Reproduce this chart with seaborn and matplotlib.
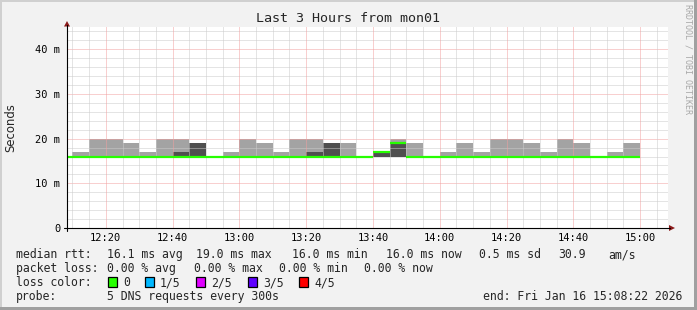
import numpy as np
import pandas as pd
import matplotlib
matplotlib.use("Agg")
import matplotlib.pyplot as plt
import seaborn as sns
from matplotlib.patches import Rectangle, Polygon
from matplotlib.lines import Line2D

# ---------------- data ----------------
interval_start = ["12:05", "12:10", "12:15", "12:20", "12:25", "12:30", "12:35",
                  "12:40", "12:45", "12:50", "12:55", "13:00", "13:05", "13:10",
                  "13:15", "13:20", "13:25", "13:30", "13:35", "13:40", "13:45",
                  "13:50", "13:55", "14:00", "14:05", "14:10", "14:15", "14:20",
                  "14:25", "14:30", "14:35", "14:40", "14:45", "14:50", "14:55"]
median_ms = [16, 16, 16, 16, 16, 16, 16, 16, 16, 16, 16, 16, 16, 16, 16, 16, 16, 16,
             16, 17, 19, 16, 16, 16, 16, 16, 16, 16, 16, 16, 16, 16, 16, 16, 16]
smoke_min_ms = [16] * 35
smoke_max_ms = [16, 17, 20, 20, 19, 17, 20, 20, 19, 16, 17, 20, 19, 17, 20, 20, 19, 19,
                16, 17, 20, 19, 16, 17, 19, 17, 20, 20, 19, 17, 20, 19, 16, 17, 19]
smoke_inner_ms = [16, 16, 16, 16, 16, 16, 16, 17, 19, 16, 16, 16, 16, 16, 16, 17, 19, 16,
                  16, 17, 19, 16, 16, 16, 16, 16, 16, 16, 16, 16, 16, 16, 16, 16, 16]
ytick_values = [0, 10, 20, 30, 40]
ytick_labels = ["0", "10 m", "20 m", "30 m", "40 m"]
xtick_labels = ["12:20", "12:40", "13:00", "13:20", "13:40", "14:00", "14:20", "14:40", "15:00"]
window_start = "12:08:22"
window_hours = 3

title = "Last 3 Hours from mon01"
ylabel = "Seconds"
watermark = "RRDTOOL / TOBI OETIKER"
rtt_line = ["median rtt:", "16.1 ms avg", "19.0 ms max", "16.0 ms min",
            "16.0 ms now", "0.5 ms sd", "30.9", "am/s"]
loss_line = ["packet loss:", "0.00 % avg", "0.00 % max", "0.00 % min", "0.00 % now"]
loss_color_labels = ["0", "1/5", "2/5", "3/5", "4/5"]
loss_colors = ["#26ff00", "#00b8ff", "#e000ff", "#5e00ff", "#ff0000"]
probe_line = ["probe:", "5 DNS requests every 300s"]
end_text = "end: Fri Jan 16 15:08:22 2026"


def to_min(s):
    parts = [int(p) for p in s.split(":")]
    return parts[0] * 60 + parts[1] + (parts[2] / 60 if len(parts) > 2 else 0)


t0 = np.array([to_min(s) for s in interval_start])
x_lo = to_min(window_start)
x_hi = x_lo + window_hours * 60

# ---------------- figure ----------------
W, H = 697, 310
sns.set_style("white")
plt.rcParams["font.family"] = ["DejaVu Sans Mono"]
BG = "#f2f2f2"
fig = plt.figure(figsize=(W / 100, H / 100), dpi=100, facecolor=BG)


def fx(x):
    return x / W


def fy(y):
    return 1 - y / H


L, R, T, B = 67, 668, 27, 228
ax = fig.add_axes([fx(L), fy(B), (R - L) / W, (B - T) / H])
ax.set_facecolor("white")
ax.set_xlim(x_lo, x_hi)
ax.set_ylim(0, 45)
for s in ax.spines.values():
    s.set_visible(False)

# smoke
lo = np.array(smoke_min_ms, dtype=float)
ax.bar(t0, np.array(smoke_max_ms) - lo, bottom=lo, width=5, align="edge",
       color="#a3a3a3", linewidth=0, zorder=1)
ax.bar(t0, np.array(smoke_inner_ms) - lo, bottom=lo, width=5, align="edge",
       color="#4f4f4f", linewidth=0, zorder=1.1)

# grid (dotted)
minor_c, major_c = "#cbcbcb", "#f2a0a0"
dots = (0, (1, 1))
for yv in range(2, 45, 2):
    ax.axhline(yv, color=major_c if yv % 10 == 0 else minor_c, lw=0.72, ls=dots, zorder=2)
x_major = [to_min(s) for s in xtick_labels]
for tv in np.arange(to_min("12:10"), x_hi, 5):
    ax.axvline(tv, color=major_c if tv in x_major else minor_c, lw=0.72, ls=dots, zorder=2)

# median line (segments, no vertical joins)
rows = []
for i, (t, m) in enumerate(zip(t0, median_ms)):
    rows.append({"t": t, "ms": m, "seg": i})
    rows.append({"t": t + 5, "ms": m, "seg": i})
df = pd.DataFrame(rows)
sns.lineplot(data=df, x="t", y="ms", units="seg", estimator=None, color=loss_colors[0],
             lw=1.6, legend=False, ax=ax, zorder=3, solid_capstyle="butt")
ax.set_xlabel("")
ax.set_ylabel("")

# ticks
ax.set_yticks(ytick_values, labels=ytick_labels)
ax.set_yticks(np.arange(2, 45, 2), minor=True)
ax.set_xticks(x_major, labels=xtick_labels)
ax.set_xticks(np.arange(to_min("12:10"), x_hi, 5), minor=True)
ax.tick_params(which="both", direction="out", length=2.3, width=0.72, colors="#333333",
               labelcolor="black", labelsize=7.5)
ax.tick_params(axis="y", pad=2.6)
ax.tick_params(axis="x", pad=1.5)

# axis lines with arrows
ARROW = "#8b1a1a"
fig.add_artist(Line2D([fx(L), fx(L)], [fy(231), fy(25)], color="black", lw=0.8))
fig.add_artist(Line2D([fx(64), fx(670)], [fy(B), fy(B)], color="black", lw=0.8))
fig.add_artist(Polygon([[fx(64), fy(26.5)], [fx(70), fy(26.5)], [fx(67), fy(21)]],
                       closed=True, color=ARROW, lw=0))
fig.add_artist(Polygon([[fx(669), fy(225)], [fx(669), fy(231)], [fx(675), fy(228)]],
                       closed=True, color=ARROW, lw=0))

# texts
fig.text(fx(348), fy(19), title, ha="center", va="center", fontsize=9.6)
fig.text(fx(11), fy(128), ylabel, rotation=90, ha="center", va="center",
         fontsize=8.4, family=["DejaVu Sans"])
fig.text(fx(688), fy(4), watermark, rotation=270, ha="center", va="top",
         fontsize=6, color="#a8a8a8")

fs = 8.3
base = [258, 272, 286, 300]
rtt_x = [16, 107, 196, 292, 386, 479, 558, 608]
for s, x in zip(rtt_line, rtt_x):
    fig.text(fx(x), fy(base[0]), s, ha="left", va="baseline", fontsize=fs)
loss_x = [16, 107, 194, 279, 364]
for s, x in zip(loss_line, loss_x):
    fig.text(fx(x), fy(base[1]), s, ha="left", va="baseline", fontsize=fs)
fig.text(fx(16), fy(base[2]), "loss color:", ha="left", va="baseline", fontsize=fs)
box_x = [108, 145, 196, 248, 299]
for lab, col, x in zip(loss_color_labels, loss_colors, box_x):
    fig.add_artist(Rectangle((fx(x), fy(287)), 8.5 / W, 10 / H, facecolor=col,
                             edgecolor="black", lw=0.9))
    fig.text(fx(x + 15), fy(base[2]), lab, ha="left", va="baseline", fontsize=fs)
fig.text(fx(16), fy(base[3]), probe_line[0], ha="left", va="baseline", fontsize=fs)
fig.text(fx(107), fy(base[3]), probe_line[1], ha="left", va="baseline", fontsize=fs)
fig.text(fx(682), fy(base[3]), end_text, ha="right", va="baseline", fontsize=fs)

# frame shading
fig.add_artist(Rectangle((0, 0), 2 / W, 1, facecolor="#d0d0d0", lw=0))
fig.add_artist(Rectangle((0, 1 - 2 / H), 1, 2 / H, facecolor="#d0d0d0", lw=0))
fig.add_artist(Rectangle((1 - 3 / W, 0), 3 / W, 1, facecolor="#a0a0a0", lw=0))
fig.add_artist(Rectangle((0, 0), 1, 3 / H, facecolor="#a0a0a0", lw=0))

fig.savefig("out.png", dpi=100, facecolor=BG)
